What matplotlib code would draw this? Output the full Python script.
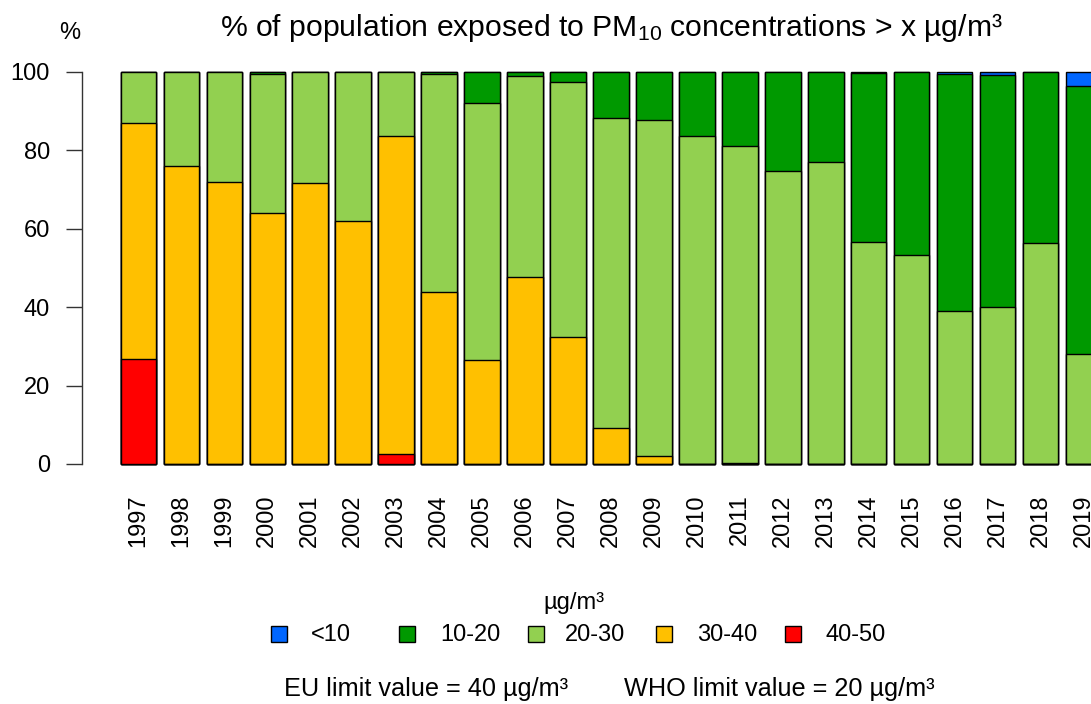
import matplotlib
matplotlib.use('Agg')
import matplotlib.pyplot as plt
from matplotlib.patches import Rectangle
import numpy as np

plt.rcParams['font.family'] = ['Liberation Sans', 'DejaVu Sans']
plt.rcParams['mathtext.default'] = 'regular'

# share of population (%) exposed to PM10 above each threshold
years = [str(y) for y in range(1997, 2020)]
above_0 = [100] * 23
above_10 = [100, 100, 100, 100, 100, 100, 100, 100, 100, 100, 100, 100,
            100, 100, 100, 100, 100, 99.7, 100, 99.5, 99.3, 100, 96.5]
above_20 = [100, 100, 100, 99.6, 100, 100, 100, 99.5, 92.0, 99.1, 97.4, 88.3,
            87.8, 83.8, 81.0, 74.7, 77.0, 56.6, 53.3, 39.1, 40.1, 56.3, 28.0]
above_30 = [87.1, 76.1, 71.9, 64.1, 71.6, 62.0, 83.8, 43.9, 26.6, 47.6, 32.3, 9.1,
            2.0, 0, 0.3, 0, 0, 0, 0, 0, 0, 0, 0]
above_40 = [26.9, 0, 0, 0, 0, 0, 2.5, 0, 0, 0, 0, 0,
            0, 0, 0, 0, 0, 0, 0, 0, 0, 0, 0]

classes = ['<10', '10-20', '20-30', '30-40', '40-50']
colors = ['#0066FF', '#009900', '#92D050', '#FFC000', '#FF0000']
series = [above_0, above_10, above_20, above_30, above_40]

W, H = 1091, 704
fig = plt.figure(figsize=(W / 100, H / 100), dpi=100)
ax = fig.add_axes([82 / W, (H - 464) / H, (W - 82) / W, (464 - 72) / H])

x = np.arange(len(years))
for vals, col in zip(series, colors):
    ax.bar(x, vals, width=0.83, color=col, edgecolor='black', linewidth=1.0, clip_on=False)

ax.set_xlim(-1.315, 22.177)
ax.set_ylim(0, 100)
for s in ['top', 'right', 'bottom']:
    ax.spines[s].set_visible(False)
ax.spines['left'].set_bounds(0, 100)
ax.spines['left'].set_linewidth(1.0)
ax.spines['left'].set_color('#333333')

ax.set_yticks([0, 20, 40, 60, 80, 100])
ax.tick_params(axis='y', length=11.5, width=1.0, pad=11.5, labelsize=17, color='#333333')
ax.set_xticks(x)
ax.set_xticklabels(years, rotation=90)
ax.tick_params(axis='x', length=0, pad=22, labelsize=17)

fig.text(611 / W, 1 - 28 / H, '% of population exposed to PM$_{10}$ concentrations > x µg/m³',
         ha='center', va='center', fontsize=21.7)
fig.text(70 / W, 1 - 33 / H, '%', ha='center', va='center', fontsize=17)

# legend
fig.text(574 / W, 1 - 603 / H, 'µg/m³', ha='center', va='center', fontsize=17)
sq_x = [278.5, 406.5, 535.5, 664, 792.5]
txt_x = [311, 440, 565, 697, 825]
for i in range(len(classes)):
    fig.patches.append(Rectangle(((sq_x[i] - 8) / W, 1 - (634 + 8) / H), 16 / W, 16 / H,
                                 facecolor=colors[i], edgecolor='black', linewidth=1.0,
                                 transform=fig.transFigure, figure=fig))
    fig.text(txt_x[i] / W, 1 - 635 / H, classes[i], ha='left', va='center', fontsize=17)

fig.text(284 / W, 1 - 689 / H, 'EU limit value = 40 µg/m³', ha='left', va='center', fontsize=18.2)
fig.text(624 / W, 1 - 689 / H, 'WHO limit value = 20 µg/m³', ha='left', va='center', fontsize=18.2)

fig.savefig('out.png', dpi=100)
